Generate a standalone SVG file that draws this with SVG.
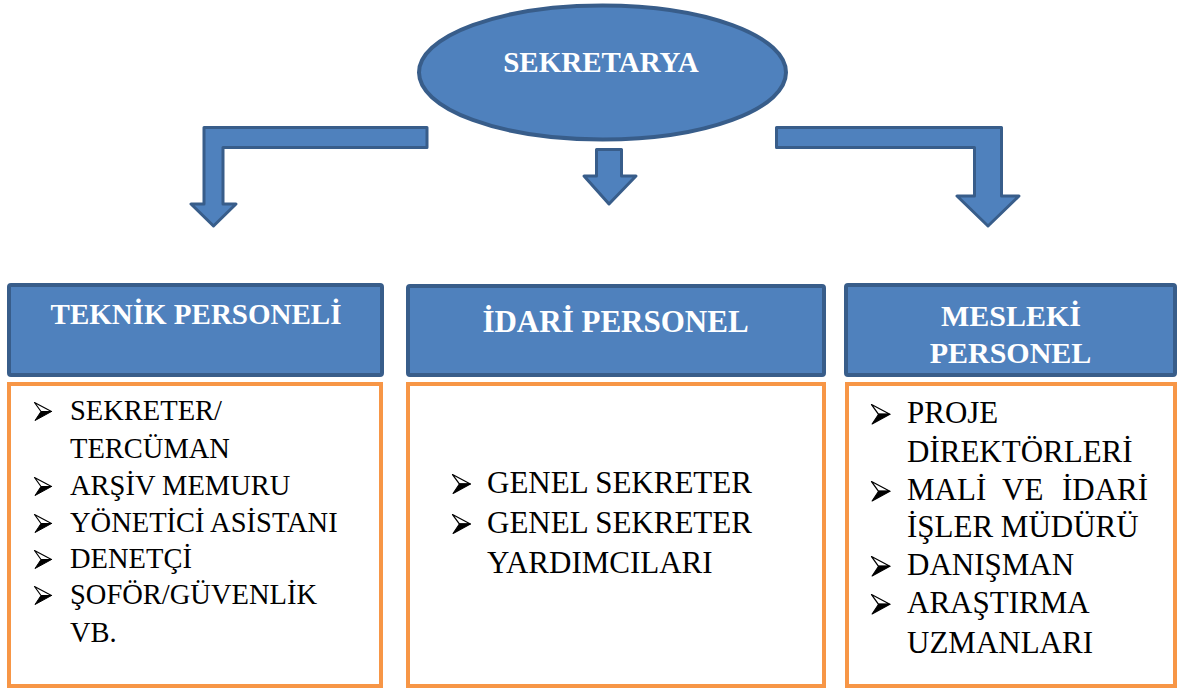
<svg xmlns="http://www.w3.org/2000/svg" width="1181" height="693" viewBox="0 0 1181 693">
<defs>
<g id="bul">
<path d="M0.5,0.5 L17.5,9.5 L7,9.5 Z" fill="#FFFFFF" stroke="#000000" stroke-width="1.2" stroke-linejoin="round"/>
<path d="M7,9.5 L17.5,9.5 L1,18.5 Z" fill="#000000" stroke="#000000" stroke-width="1" stroke-linejoin="round"/>
</g>
</defs>
<rect width="1181" height="693" fill="#FFFFFF"/>

<g id="sekretarya">
<ellipse cx="602.5" cy="72.5" rx="183.5" ry="67" fill="#4F81BD" stroke="#385D8A" stroke-width="4"/>
<text x="601" y="72" font-size="29" font-family="'Liberation Serif', serif" font-weight="bold" fill="#FFFFFF" text-anchor="middle">SEKRETARYA</text>
</g>

<g id="connectors" fill="#4F81BD" stroke="#385D8A" stroke-width="3" stroke-linejoin="round">
<path d="M204,127.5 L427,127.5 L427,147.5 L223,147.5 L223,204 L236,204 L213.5,226 L191,204 L204,204 Z"/>
<path d="M596.5,149.5 L621.5,149.5 L621.5,176 L636,176 L609,204 L584,176 L596.5,176 Z"/>
<path d="M776.5,127.5 L1001.5,127.5 L1001.5,196 L1019,196 L988,226 L957,196 L974.5,196 L974.5,147.5 L776.5,147.5 Z"/>
</g>

<g id="headers" fill="#FFFFFF" font-weight="bold" text-anchor="middle">
<g id="teknik-header">
<rect x="9" y="285" width="373" height="90" rx="2" fill="#4F81BD" stroke="#385D8A" stroke-width="4"/>
<text x="196" y="324" font-size="29" font-family="'Liberation Serif', serif">TEKNİK PERSONELİ</text>
</g>
<g id="idari-header">
<rect x="408" y="286" width="416" height="89" rx="2" fill="#4F81BD" stroke="#385D8A" stroke-width="4"/>
<text x="615.5" y="332" font-size="31" font-family="'Liberation Serif', serif">İDARİ PERSONEL</text>
</g>
<g id="mesleki-header">
<rect x="846" y="285" width="329" height="90" rx="2" fill="#4F81BD" stroke="#385D8A" stroke-width="4"/>
<text x="1011" y="326" font-size="30" font-family="'Liberation Serif', serif">MESLEKİ</text>
<text x="1010.5" y="363" font-size="30" font-family="'Liberation Serif', serif">PERSONEL</text>
</g>
</g>

<g id="teknik-list" fill="#000000">
<rect x="9" y="384" width="372" height="302" fill="#FFFFFF" stroke="#F79646" stroke-width="4"/>
<use href="#bul" x="34" y="402"/>
<use href="#bul" x="34" y="477"/>
<use href="#bul" x="34" y="514"/>
<use href="#bul" x="34" y="550"/>
<use href="#bul" x="34" y="586"/>
<text font-size="28.5" font-family="'Liberation Serif', serif" x="70" y="420">SEKRETER/</text>
<text font-size="28.5" font-family="'Liberation Serif', serif" x="70" y="458">TERCÜMAN</text>
<text font-size="28.5" font-family="'Liberation Serif', serif" x="70" y="495">ARŞİV MEMURU</text>
<text font-size="28.5" font-family="'Liberation Serif', serif" x="70" y="532">YÖNETİCİ ASİSTANI</text>
<text font-size="28.5" font-family="'Liberation Serif', serif" x="70" y="568">DENETÇİ</text>
<text font-size="28.5" font-family="'Liberation Serif', serif" x="70" y="604">ŞOFÖR/GÜVENLİK</text>
<text font-size="28.5" font-family="'Liberation Serif', serif" x="70" y="642">VB.</text>
</g>

<g id="idari-list" fill="#000000">
<rect x="408" y="384" width="416" height="302" fill="#FFFFFF" stroke="#F79646" stroke-width="4"/>
<use href="#bul" transform="translate(452,474) scale(1.05)"/>
<use href="#bul" transform="translate(452,514) scale(1.05)"/>
<text font-size="31" font-family="'Liberation Serif', serif" x="487" y="493">GENEL SEKRETER</text>
<text font-size="31" font-family="'Liberation Serif', serif" x="487" y="533">GENEL SEKRETER</text>
<text font-size="31" font-family="'Liberation Serif', serif" x="487" y="573">YARDIMCILARI</text>
</g>

<g id="mesleki-list" fill="#000000">
<rect x="847" y="384" width="328" height="302" fill="#FFFFFF" stroke="#F79646" stroke-width="4"/>
<use href="#bul" transform="translate(871,404) scale(1.08)"/>
<use href="#bul" transform="translate(871,481) scale(1.08)"/>
<use href="#bul" transform="translate(871,556) scale(1.08)"/>
<use href="#bul" transform="translate(871,594) scale(1.08)"/>
<text font-size="31" font-family="'Liberation Serif', serif" x="907" y="423">PROJE</text>
<text font-size="31" font-family="'Liberation Serif', serif" x="907" y="462">DİREKTÖRLERİ</text>
<text font-size="31" font-family="'Liberation Serif', serif" x="907" y="500">MALİ</text>
<text font-size="31" font-family="'Liberation Serif', serif" x="1002" y="500">VE</text>
<text font-size="31" font-family="'Liberation Serif', serif" x="1062" y="500">İDARİ</text>
<text font-size="31" font-family="'Liberation Serif', serif" x="907" y="537">İŞLER MÜDÜRÜ</text>
<text font-size="31" font-family="'Liberation Serif', serif" x="907" y="575">DANIŞMAN</text>
<text font-size="31" font-family="'Liberation Serif', serif" x="907" y="613">ARAŞTIRMA</text>
<text font-size="31" font-family="'Liberation Serif', serif" x="907" y="653">UZMANLARI</text>
</g>
</svg>
